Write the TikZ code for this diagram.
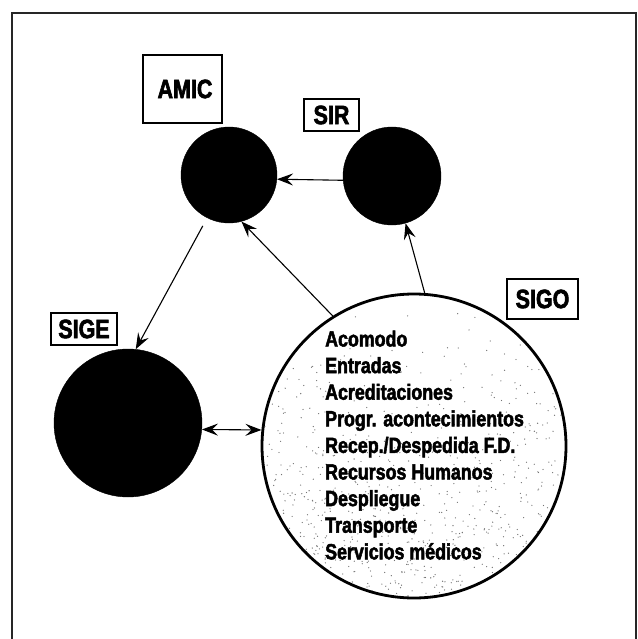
\documentclass[tikz,border=0pt]{standalone}
\usepackage{fontspec}
\newfontfamily\dfont[FakeStretch=0.81,FakeBold=2.2]{Liberation Sans}
\usetikzlibrary{arrows.meta}
\begin{document}
\begin{tikzpicture}[x=1pt,y=-1pt,
  disc/.style={circle,fill=black,draw=black,inner sep=0pt},
  tag/.style={draw=black,line width=1.4pt,fill=white,inner sep=0pt,
    font=\dfont\bfseries\fontsize{26.5}{26.5}\selectfont},
  listtxt/.style={anchor=base west,inner sep=0pt,
    font=\dfont\bfseries\fontsize{22}{22}\selectfont},
  arr/.style={line width=1.1pt,-{Stealth[length=16pt,width=12pt,inset=6pt]}},
  darr/.style={line width=1.1pt,{Stealth[length=16pt,width=12pt,inset=6pt]}-{Stealth[length=16pt,width=12pt,inset=6pt]}},
  frame/.style={line width=1.3pt,black!85}]
\useasboundingbox (0,0) rectangle (637,639);

% outer frame, open at the bottom
\draw[frame] (12,639) -- (12,13) -- (636,13) -- (636,639);

% stippled background of the large circle
\pgfmathsetseed{4242}
\begin{scope}
  \clip (414,446) circle[radius=151];
  \foreach \k in {1,...,850}{
    \pgfmathsetmacro\px{264+300*rnd}
    \pgfmathsetmacro\py{296+300*sqrt(rnd)}
    \fill[black!55] (\px,\py) circle[radius=0.65];
  }
\end{scope}

% subsystems
\node[disc,minimum size=96pt] (amic) at (229,175) {};
\node[disc,minimum size=98pt] (sir) at (392,176) {};
\node[disc,minimum size=148pt] (sige) at (128,423) {};
\node[circle,draw=black,line width=2.8pt,minimum size=304pt,inner sep=0pt] (sigo) at (414,446) {};

% system labels
\node[tag,minimum width=79pt,minimum height=68pt] (amicL) at (182.5,89) {\raisebox{-2pt}{\hspace{5pt}AMIC}};
\node[tag,minimum width=55pt,minimum height=32pt] (sirL) at (331.5,115) {SIR};
\node[tag,minimum width=66pt,minimum height=32pt] (sigeL) at (84,329) {SIGE};
\node[tag,minimum width=71pt,minimum height=40pt] (sigoL) at (542.5,299) {SIGO};

% functions handled by SIGO
\foreach \t [count=\i] in {Acomodo,Entradas,Acreditaciones,Progr. acontecimientos,
  Recep./Despedida F.D.,Recursos Humanos,Despliegue,Transporte,Servicios médicos}
  \node[listtxt] (item\i) at (325,{346.5+26.6*(\i-1)}) {\t};

% information flows
\draw[arr] (sir.185) -- (amic.355);
\draw[arr,shorten <=9pt] (amic.243) -- (sige.84);
\draw[arr] (sigo.122) -- (amic.285);
\draw[arr] (sigo.86) -- (sir.286);
\draw[darr] (sige.355) -- (sigo.174);
\end{tikzpicture}
\end{document}
